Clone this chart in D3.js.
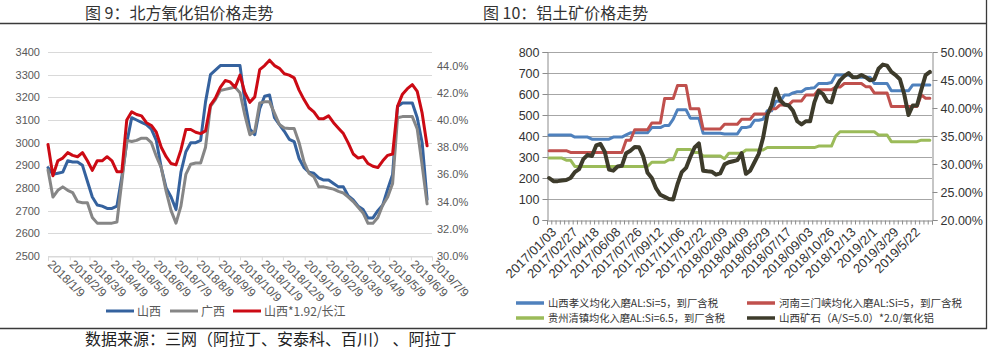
<!DOCTYPE html>
<html>
<head>
<meta charset="utf-8">
<script src="https://cdn.jsdelivr.net/npm/d3@7"></script>
<style>
  body { margin: 0; background: #fff; }
  svg { display: block; font-family: "Noto Sans CJK SC", "Liberation Sans", sans-serif; }
</style>
</head>
<body>
<svg id="chart" width="988" height="350"></svg>
<script>
// ---------- 图9：北方氧化铝价格走势 (weekly) ----------
const aluminaWeeks = [
  "2018-01-09","2018-01-16","2018-01-23","2018-01-30",
  "2018-02-06","2018-02-13","2018-02-20","2018-02-27",
  "2018-03-06","2018-03-13","2018-03-20","2018-03-27",
  "2018-04-03","2018-04-10","2018-04-17","2018-04-24",
  "2018-05-01","2018-05-08","2018-05-15","2018-05-22","2018-05-29",
  "2018-06-05","2018-06-12","2018-06-19","2018-06-26",
  "2018-07-03","2018-07-10","2018-07-17","2018-07-24","2018-07-31",
  "2018-08-07","2018-08-14","2018-08-21","2018-08-28",
  "2018-09-04","2018-09-11","2018-09-18","2018-09-25",
  "2018-10-02","2018-10-09","2018-10-16","2018-10-23","2018-10-30",
  "2018-11-06","2018-11-13","2018-11-20","2018-11-27",
  "2018-12-04","2018-12-11","2018-12-18","2018-12-25",
  "2019-01-01","2019-01-08","2019-01-15","2019-01-22","2019-01-29",
  "2019-02-05","2019-02-12","2019-02-19","2019-02-26",
  "2019-03-05","2019-03-12","2019-03-19","2019-03-26",
  "2019-04-02","2019-04-09","2019-04-16","2019-04-23","2019-04-30",
  "2019-05-07","2019-05-14","2019-05-21","2019-05-28",
  "2019-06-04","2019-06-11","2019-06-18","2019-06-25",
  "2019-07-02"
];
// 山西 (元/吨, left axis)
const shanxiPrice = [
  2890,2860,2865,2870,2920,2915,2915,2900,2830,2760,
  2725,2720,2710,2710,2720,2850,3000,3110,3100,3090,
  3080,3060,3010,2890,2800,2760,2705,2870,2960,3000,
  3000,3010,3180,3300,3320,3340,3340,3340,3340,3340,
  3180,3060,3035,3150,3205,3210,3110,3080,3050,3015,
  3005,2930,2890,2870,2865,2845,2835,2835,2820,2805,
  2805,2765,2747,2720,2705,2668,2668,2700,2725,2795,
  2860,3160,3175,3175,3175,3110,3000,2750
];
// 广西 (元/吨, left axis)
const guangxiPrice = [
  2880,2760,2790,2805,2790,2780,2740,2735,2735,2670,
  2645,2645,2645,2645,2650,2830,3010,3005,3010,3020,
  3020,3000,2940,2890,2785,2700,2645,2720,2860,2905,
  2910,2910,2980,3160,3190,3230,3235,3240,3245,3220,
  3120,3035,3050,3175,3180,3180,3130,3080,3065,3063,
  3063,3000,2915,2865,2850,2805,2805,2800,2795,2785,
  2778,2760,2740,2715,2690,2644,2644,2670,2725,2760,
  2820,3110,3115,3115,3115,3060,2900,2730
];
// 山西*1.92/长江 (%, right axis)
const shanxiRatio = [
  38.2,35.9,37.0,37.2,37.6,37.4,37.3,37.6,37.0,36.3,
  37.0,37.0,37.3,37.0,36.2,36.2,40.0,40.6,40.4,40.3,
  39.8,39.6,39.1,38.0,37.3,36.8,36.7,37.8,39.3,39.3,
  39.1,39.0,39.2,41.1,41.6,42.4,42.9,42.8,42.4,43.3,
  42.0,41.3,41.7,43.7,44.0,44.4,44.0,43.8,43.4,43.3,
  43.1,42.2,41.5,40.9,40.6,40.1,40.1,40.3,39.8,39.4,
  39.0,38.3,37.5,37.2,37.3,36.8,36.6,36.5,37.0,37.4,
  37.5,41.0,41.9,42.3,42.6,42.1,40.5,38.1
];
const aluminaMonthTicks = [
  "2018/1/9","2018/2/9","2018/3/9","2018/4/9","2018/5/9","2018/6/9","2018/7/9",
  "2018/8/9","2018/9/9","2018/10/9","2018/11/9","2018/12/9","2019/1/9","2019/2/9",
  "2019/3/9","2019/4/9","2019/5/9","2019/6/9","2019/7/9"
];
const aluminaPriceTicks = [2500,2600,2700,2800,2900,3000,3100,3200,3300,3400];
const aluminaRatioTicks = [30,32,34,36,38,40,42,44];

// ---------- 图10：铝土矿价格走势 ----------
const oreTickLabels = [
  "2017/01/03","2017/02/27","2017/04/18","2017/06/08","2017/07/26","2017/09/12",
  "2017/11/06","2017/12/22","2018/02/09","2018/04/09","2018/05/29","2018/07/17",
  "2018/09/03","2018/10/26","2018/12/13","2019/2/1","2019/3/29","2019/5/22"
];
const oreLabelEvery = 5;
// 山西孝义均化入磨AL:Si=5，到厂含税 (元/吨)
const xiaoyiPrice = [
  405,405,405,405,405,405,395,395,395,395,
  385,385,385,385,385,395,395,395,405,415,
  415,415,415,415,440,440,440,450,450,480,
  525,525,525,485,485,485,413,413,413,413,
  413,410,410,410,410,440,440,445,475,475,
  480,520,520,565,565,595,595,605,611,611,
  625,627,630,650,650,650,655,690,690,690,
  690,680,680,680,680,680,650,650,650,650,
  615,615,615,615,615,643,643,643,643,643
];
// 河南三门峡均化入磨AL:Si=5，到厂含税 (元/吨)
const sanmenxiaPrice = [
  330,330,330,330,330,322,322,322,322,322,
  322,322,322,322,322,322,322,322,380,380,
  430,430,430,430,462,462,462,578,578,578,
  640,640,640,530,530,530,433,433,433,433,
  433,456,456,456,456,480,480,480,505,505,
  505,505,530,530,548,548,548,567,567,567,
  595,595,595,620,620,620,620,633,633,650,
  650,650,650,650,635,635,605,605,605,605,
  540,540,540,540,540,540,540,595,580,580
];
// 贵州清镇均化入磨AL:Si=6.5，到厂含税 (元/吨)
const qingzhenPrice = [
  295,295,295,295,285,285,255,255,255,255,
  255,255,255,255,255,255,255,255,255,255,
  255,255,255,255,275,275,275,275,287,287,
  336,336,336,336,322,322,305,305,305,305,
  305,292,318,318,318,318,333,333,333,333,
  333,345,345,345,345,345,345,345,345,345,
  345,345,345,352,352,352,352,400,420,420,
  420,420,420,420,420,420,420,405,405,405,
  373,373,373,373,373,373,373,380,380,380
];
// 山西矿石（A/S=5.0）*2.0/氧化铝 (%, right axis)
const oreRatio = [
  27.50,26.94,26.94,27.05,27.13,27.50,28.55,29.08,30.88,31.63,
  31.44,33.31,33.58,32.19,29.00,28.81,29.56,29.68,31.93,32.38,
  33.05,33.01,31.36,28.44,27.50,25.63,24.50,24.13,23.75,23.68,
  26.38,28.55,29.30,31.25,32.94,33.69,28.81,28.70,28.63,28.10,
  28.33,29.94,30.31,30.50,30.69,31.93,28.25,28.81,30.31,31.81,
  34.63,38.75,40.44,43.44,41.38,40.63,40.44,39.50,37.63,37.06,
  37.63,37.63,41.00,43.06,42.50,41.19,41.00,43.63,44.94,45.69,
  46.25,45.50,45.50,45.88,45.50,44.94,45.13,47.00,47.75,47.56,
  46.44,45.88,45.13,42.50,38.75,40.44,40.44,43.25,45.88,46.44
];
const orePriceTicks = [0,100,200,300,400,500,600,700,800];
const oreRatioTicks = [20,25,30,35,40,45,50];

const svg = d3.select("#chart");

// ---------- page frame ----------
svg.append("line").attr("x1", 0).attr("x2", 987).attr("y1", 23.5).attr("y2", 23.5)
  .attr("stroke", "#3a3a3a").attr("stroke-width", 1.3);
svg.append("line").attr("x1", 0).attr("x2", 987).attr("y1", 328.5).attr("y2", 328.5)
  .attr("stroke", "#3a3a3a").attr("stroke-width", 1.3);
svg.append("line").attr("x1", 986.5).attr("x2", 986.5).attr("y1", 0).attr("y2", 329)
  .attr("stroke", "#3a3a3a").attr("stroke-width", 1.3);

svg.append("text").attr("x", 85).attr("y", 19).attr("font-size", 16).attr("fill", "#333")
  .text("图 9：北方氧化铝价格走势");
svg.append("text").attr("x", 483).attr("y", 19).attr("font-size", 16).attr("fill", "#333")
  .text("图 10：铝土矿价格走势");
svg.append("text").attr("x", 85).attr("y", 345).attr("font-size", 16).attr("fill", "#222")
  .text("数据来源：三网（阿拉丁、安泰科、百川） 、阿拉丁");

// ---------- left chart ----------
(function () {
  const g = svg.append("g");
  const parseWeek = d3.timeParse("%Y-%m-%d");
  const parseTick = d3.timeParse("%Y/%m/%d");
  const weeks = aluminaWeeks.map(parseWeek);
  const ticks = aluminaMonthTicks.map(parseTick);

  const x = d3.scaleTime().domain([ticks[0], ticks[ticks.length - 1]]).range([48, 432]);
  const y = d3.scaleLinear().domain([2500, 3400]).range([256, 52]);
  const yr = d3.scaleLinear().domain([30, 45]).range([256, 52]);

  // gridlines
  g.append("g").selectAll("line").data(aluminaPriceTicks).join("line")
    .attr("x1", 48).attr("x2", 432)
    .attr("y1", d => Math.round(y(d)) + 0.5).attr("y2", d => Math.round(y(d)) + 0.5)
    .attr("stroke", "#d9d9d9").attr("stroke-width", 1);

  // left axis
  const ax = g.append("g").attr("transform", "translate(48,0)")
    .call(d3.axisLeft(y).tickValues(aluminaPriceTicks).tickFormat(d3.format("d")).tickSize(0).tickPadding(8));
  ax.select(".domain").remove();
  ax.selectAll("text").attr("font-family", "Liberation Sans").attr("font-size", 11).attr("fill", "#595959");

  // right axis
  const ar = g.append("g").attr("transform", "translate(432,0)")
    .call(d3.axisRight(yr).tickValues(aluminaRatioTicks).tickFormat(d => d.toFixed(1) + "%").tickSize(0).tickPadding(5));
  ar.select(".domain").remove();
  ar.selectAll("text").attr("font-family", "Liberation Sans").attr("font-size", 11).attr("fill", "#595959");

  // bottom axis
  const ab = g.append("g").attr("transform", "translate(0,256.5)")
    .call(d3.axisBottom(x).tickValues(ticks).tickSize(4).tickFormat(""));
  ab.select(".domain").attr("stroke", "#d9d9d9");
  ab.selectAll(".tick line").attr("stroke", "#d9d9d9");

  g.append("g").selectAll("text").data(ticks).join("text")
    .attr("transform", d => `translate(${x(d) - 1},${265}) rotate(45)`)
    .attr("font-family", "Liberation Sans").attr("font-size", 12).attr("fill", "#595959")
    .attr("text-anchor", "start")
    .text((d, i) => aluminaMonthTicks[i]);

  const lineP = d3.line().x((d, i) => x(weeks[i])).y(d => y(d));
  const lineR = d3.line().x((d, i) => x(weeks[i])).y(d => yr(d));

  const series = [
    { data: shanxiPrice, gen: lineP, color: "#35629e" },
    { data: guangxiPrice, gen: lineP, color: "#868686" },
    { data: shanxiRatio, gen: lineR, color: "#cc0a14" }
  ];
  series.forEach(s => {
    g.append("path").datum(s.data).attr("d", s.gen)
      .attr("fill", "none").attr("stroke", s.color).attr("stroke-width", 3)
      .attr("stroke-linejoin", "round").attr("stroke-linecap", "round");
  });

  // legend
  const legend = [
    { label: "山西", color: "#35629e", x: 106 },
    { label: "广西", color: "#868686", x: 170 },
    { label: "山西*1.92/长江", color: "#cc0a14", x: 233 }
  ];
  const lg = g.append("g");
  legend.forEach(d => {
    lg.append("line").attr("x1", d.x).attr("x2", d.x + 28).attr("y1", 311).attr("y2", 311)
      .attr("stroke", d.color).attr("stroke-width", 3);
    lg.append("text").attr("x", d.x + 31).attr("y", 315.5).attr("font-size", 12).attr("fill", "#595959")
      .text(d.label);
  });
})();

// ---------- right chart ----------
(function () {
  const g = svg.append("g");
  const n = xiaoyiPrice.length;
  const x0 = 547, x1 = 932;
  const xb = d3.scaleBand().domain(d3.range(n)).range([x0, x1]);
  const xt = d3.scaleLinear().domain([0, n]).range([x0, x1]);
  const y = d3.scaleLinear().domain([0, 800]).range([220, 52]);
  const yr = d3.scaleLinear().domain([20, 50]).range([220, 52]);
  const cx = i => xb(i) + xb.bandwidth() / 2;

  // gridlines
  g.append("g").selectAll("line").data(orePriceTicks.filter(d => d > 0)).join("line")
    .attr("x1", x0).attr("x2", x1)
    .attr("y1", d => Math.round(y(d)) + 0.5).attr("y2", d => Math.round(y(d)) + 0.5)
    .attr("stroke", "#a6a6a6").attr("stroke-width", 1);

  // left axis
  const al = g.append("g").attr("transform", `translate(${x0 + 0.5},0)`)
    .call(d3.axisLeft(y).tickValues(orePriceTicks).tickSize(5).tickPadding(3));
  al.select(".domain").attr("stroke", "#8c8c8c");
  al.selectAll(".tick line").attr("stroke", "#8c8c8c");
  al.selectAll("text").attr("font-family", "Liberation Sans").attr("font-size", 12.5).attr("fill", "#333");

  // right axis
  const ar = g.append("g").attr("transform", `translate(${x1 + 0.5},0)`)
    .call(d3.axisRight(yr).tickValues(oreRatioTicks).tickFormat(d => d.toFixed(2) + "%").tickSize(5).tickPadding(3));
  ar.select(".domain").attr("stroke", "#8c8c8c");
  ar.selectAll(".tick line").attr("stroke", "#8c8c8c");
  ar.selectAll("text").attr("font-family", "Liberation Sans").attr("font-size", 12.5).attr("fill", "#333");

  // bottom axis with a tick between every category
  const ab = g.append("g").attr("transform", "translate(0,220.5)")
    .call(d3.axisBottom(xt).tickValues(d3.range(0, n + 1)).tickSize(4).tickFormat(""));
  ab.select(".domain").attr("stroke", "#8c8c8c");
  ab.selectAll(".tick line").attr("stroke", "#8c8c8c");

  g.append("g").selectAll("text").data(oreTickLabels).join("text")
    .attr("transform", (d, i) => `translate(${cx(i * oreLabelEvery) + 8},${233}) rotate(-45)`)
    .attr("font-family", "Liberation Sans").attr("font-size", 13).attr("fill", "#333")
    .attr("text-anchor", "end")
    .text(d => d);

  const lineP = d3.line().x((d, i) => cx(i)).y(d => y(d));
  const lineR = d3.line().x((d, i) => cx(i)).y(d => yr(d));

  const series = [
    { data: xiaoyiPrice, gen: lineP, color: "#4f81bd", w: 3 },
    { data: sanmenxiaPrice, gen: lineP, color: "#c0504d", w: 3 },
    { data: qingzhenPrice, gen: lineP, color: "#9bbb59", w: 3 },
    { data: oreRatio, gen: lineR, color: "#3d3b2b", w: 4 }
  ];
  series.forEach(s => {
    g.append("path").datum(s.data).attr("d", s.gen)
      .attr("fill", "none").attr("stroke", s.color).attr("stroke-width", s.w)
      .attr("stroke-linejoin", "round").attr("stroke-linecap", "round");
  });

  const legend = [
    { label: "山西孝义均化入磨AL:Si=5，到厂含税", color: "#4f81bd", x: 516, y: 303, w: 170 },
    { label: "河南三门峡均化入磨AL:Si=5，到厂含税", color: "#c0504d", x: 747, y: 303, w: 183 },
    { label: "贵州清镇均化入磨AL:Si=6.5，到厂含税", color: "#9bbb59", x: 516, y: 318, w: 177 },
    { label: "山西矿石（A/S=5.0）*2.0/氧化铝", color: "#3d3b2b", x: 747, y: 318, w: 155 }
  ];
  legend.forEach(d => {
    g.append("line").attr("x1", d.x).attr("x2", d.x + 28).attr("y1", d.y).attr("y2", d.y)
      .attr("stroke", d.color).attr("stroke-width", 3.5);
    g.append("text").attr("x", d.x + 32).attr("y", d.y + 3.5).attr("font-size", 10.5).attr("fill", "#333")
      .attr("textLength", d.w).attr("lengthAdjust", "spacingAndGlyphs")
      .text(d.label);
  });
})();
</script>
</body>
</html>
